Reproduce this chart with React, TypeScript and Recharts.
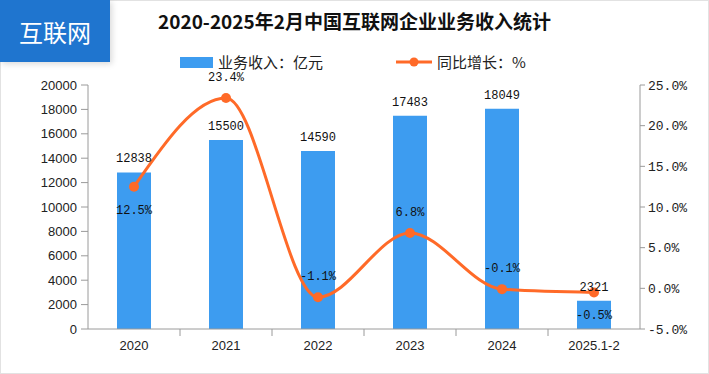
import {
  ComposedChart,
  Bar,
  Line,
  XAxis,
  YAxis,
  LabelList,
} from 'recharts';

const categories = ['2020', '2021', '2022', '2023', '2024', '2025.1-2'];
const revenue = [12838, 15500, 14590, 17483, 18049, 2321];
const growth = [12.5, 23.4, -1.1, 6.8, -0.1, -0.5];
const revenueTicks = [0, 2000, 4000, 6000, 8000, 10000, 12000, 14000, 16000, 18000, 20000];
const growthTicks = [-5, 0, 5, 10, 15, 20, 25];

// which growth labels sit under the point instead of above it
const growthLabelBelow = [true, false, false, false, false, true];

const data = categories.map((name, i) => ({
  name,
  revenue: revenue[i],
  growth: growth[i],
}));

const W = 709;
const H = 374;
const PLOT_LEFT = 88;
const PLOT_RIGHT = 640;
const BAND = (PLOT_RIGHT - PLOT_LEFT) / categories.length;

const BAR_COLOR = '#3d9cf0';
const LINE_COLOR = '#ff6a28';
const AXIS_COLOR = '#9a9a9a';
const MONO = '"Liberation Mono", "DejaVu Sans Mono", monospace';
const SANS = '"Liberation Sans", Arial, sans-serif';
const CJK = '"Noto Sans CJK SC", "Noto Sans", sans-serif';

function XTick(props: any) {
  const { x, y, payload, index } = props;
  return (
    <g>
      <text x={x} y={y + 21} textAnchor="middle" fontSize={13} fontFamily={SANS} fill="#222">
        {payload.value}
      </text>
      {index < categories.length - 1 && (
        <line x1={x + BAND / 2} x2={x + BAND / 2} y1={y} y2={y + 7} stroke={AXIS_COLOR} />
      )}
    </g>
  );
}

function GrowthLabel(props: any) {
  const { x, y, value, index } = props;
  const below = growthLabelBelow[index];
  return (
    <text
      x={x}
      y={below ? y + 24 : y - 20}
      textAnchor="middle"
      dominantBaseline="central"
      fontSize={12}
      fontFamily={MONO}
      fill="#111"
    >
      {value.toFixed(1) + '%'}
    </text>
  );
}

const legendText = {
  fontFamily: CJK,
  fontSize: 15,
  lineHeight: '20px',
  color: '#222',
};

function LegendBox() {
  return (
    <>
      <div style={{ position: 'absolute', left: 180, top: 52, display: 'flex', alignItems: 'center', ...legendText }}>
        <span style={{ width: 33, height: 11, background: BAR_COLOR, marginRight: 5 }} />
        <span>业务收入：亿元</span>
      </div>
      <div style={{ position: 'absolute', left: 396, top: 52, display: 'flex', alignItems: 'center', ...legendText }}>
        <svg width={36} height={12} style={{ marginRight: 5 }}>
          <line x1={0} x2={36} y1={6} y2={6} stroke={LINE_COLOR} strokeWidth={3} />
          <circle cx={18} cy={6} r={4.5} fill={LINE_COLOR} />
        </svg>
        <span>同比增长：%</span>
      </div>
    </>
  );
}

export default function App() {
  return (
    <div
      style={{
        position: 'absolute',
        left: 0,
        top: 0,
        width: W,
        height: H,
        background: '#fff',
        overflow: 'hidden',
      }}
    >
      <div
        style={{
          position: 'absolute',
          inset: 0,
          border: '1px solid #e2e2e2',
          boxSizing: 'border-box',
        }}
      />
      <ComposedChart
        width={W}
        height={H}
        data={data}
        margin={{ top: 85, right: 0, bottom: 15, left: 0 }}
      >
        <XAxis
          dataKey="name"
          stroke={AXIS_COLOR}
          tickLine={false}
          tickSize={0}
          tickMargin={0}
          height={30}
          tick={<XTick />}
          interval={0}
        />
        <YAxis
          yAxisId="left"
          domain={[0, 20000]}
          ticks={revenueTicks}
          interval={0}
          width={PLOT_LEFT}
          stroke={AXIS_COLOR}
          tickSize={7}
          tickMargin={4}
          tick={{ fontSize: 13, fontFamily: SANS, fill: '#222' }}
        />
        <YAxis
          yAxisId="right"
          orientation="right"
          domain={[-5, 25]}
          ticks={growthTicks}
          interval={0}
          width={W - PLOT_RIGHT}
          stroke={AXIS_COLOR}
          tickSize={5}
          tickMargin={3}
          tickFormatter={(v: number) => v.toFixed(1) + '%'}
          tick={{ fontSize: 13, fontFamily: MONO, fill: '#222' }}
        />
        <Bar
          yAxisId="left"
          dataKey="revenue"
          name="业务收入：亿元"
          fill={BAR_COLOR}
          barSize={34}
          isAnimationActive={false}
        >
          <LabelList
            dataKey="revenue"
            position="top"
            offset={10}
            style={{ fontSize: 12, fontFamily: MONO, fill: '#111' }}
          />
        </Bar>
        <Line
          yAxisId="right"
          dataKey="growth"
          name="同比增长：%"
          type="monotone"
          stroke={LINE_COLOR}
          strokeWidth={3}
          dot={{ r: 5, fill: LINE_COLOR, stroke: LINE_COLOR, strokeWidth: 0 }}
          activeDot={false}
          isAnimationActive={false}
        >
          <LabelList dataKey="growth" content={<GrowthLabel />} />
        </Line>
      </ComposedChart>
      <LegendBox />
      <div
        style={{
          position: 'absolute',
          left: 0,
          top: 8,
          width: W,
          textAlign: 'center',
          fontFamily: CJK,
          fontWeight: 'bold',
          fontSize: 19,
          color: '#111',
          lineHeight: '26px',
        }}
      >
        2020-2025年2月中国互联网企业业务收入统计
      </div>
      <div
        style={{
          position: 'absolute',
          left: 0,
          top: 0,
          width: 110,
          height: 62,
          background: '#1f75cf',
          color: '#fff',
          fontFamily: CJK,
          fontSize: 24,
          display: 'flex',
          alignItems: 'center',
          justifyContent: 'center',
          boxShadow: '2px 2px 6px rgba(0,0,0,0.15)',
        }}
      >
        互联网
      </div>
    </div>
  );
}
